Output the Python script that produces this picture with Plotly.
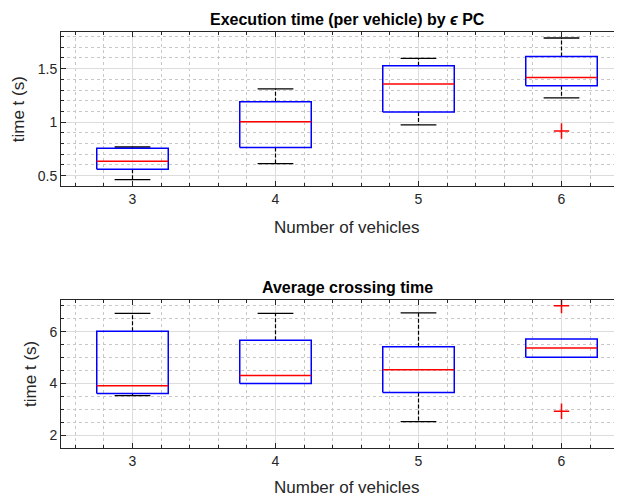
import plotly.graph_objects as go
from plotly.subplots import make_subplots

# ---------------- data ----------------
categories = [3, 4, 5, 6]

exec_lower = [0.462, 0.612, 0.975, 1.228]
exec_q1 = [0.560, 0.762, 1.094, 1.340]
exec_median = [0.634, 1.005, 1.356, 1.418]
exec_q3 = [0.756, 1.190, 1.527, 1.615]
exec_upper = [0.768, 1.312, 1.596, 1.787]
exec_out_x = [6]
exec_out_y = [0.918]

cross_lower = [3.53, 4.00, 2.53, 5.01]
cross_q1 = [3.615, 4.00, 3.65, 5.01]
cross_median = [3.91, 4.31, 4.53, 5.37]
cross_q3 = [6.01, 5.67, 5.42, 5.72]
cross_upper = [6.70, 6.70, 6.72, 5.72]
cross_out_x = [6, 6]
cross_out_y = [7.00, 2.93]

title_top = "Execution time (per vehicle) by <i>ϵ</i> PC"
title_bottom = "Average crossing time"
xlabel = "Number of vehicles"
ylabel = "time t (s)"

# ---------------- style ----------------
FONT = "Liberation Sans, Arial, sans-serif"
TXT = "#262626"
BOX_HALF = 0.25
CAP_HALF = 0.125

fig = make_subplots(rows=2, cols=1, vertical_spacing=0.0)


def add_boxes(row, lower, q1, med, q3, upper, ox, oy):
    wx, wy, cx, cy, bx, by, mx, my = [], [], [], [], [], [], [], []
    for c, lo, a, m, b, hi in zip(categories, lower, q1, med, q3, upper):
        if hi > b:
            wx += [c, c, None]
            wy += [b, hi, None]
            cx += [c - CAP_HALF, c + CAP_HALF, None]
            cy += [hi, hi, None]
        if lo < a:
            wx += [c, c, None]
            wy += [a, lo, None]
            cx += [c - CAP_HALF, c + CAP_HALF, None]
            cy += [lo, lo, None]
        bx += [c - BOX_HALF, c + BOX_HALF, c + BOX_HALF, c - BOX_HALF, c - BOX_HALF, None]
        by += [a, a, b, b, a, None]
        mx += [c - BOX_HALF, c + BOX_HALF, None]
        my += [m, m, None]
    fig.add_trace(go.Scatter(x=wx, y=wy, mode="lines", line=dict(color="black", width=1.2, dash="4px,2px"),
                             hoverinfo="skip", showlegend=False), row=row, col=1)
    fig.add_trace(go.Scatter(x=cx, y=cy, mode="lines", line=dict(color="black", width=1.3),
                             hoverinfo="skip", showlegend=False), row=row, col=1)
    fig.add_trace(go.Scatter(x=bx, y=by, mode="lines", line=dict(color="#0000ff", width=1.5),
                             hoverinfo="skip", showlegend=False), row=row, col=1)
    fig.add_trace(go.Scatter(x=mx, y=my, mode="lines", line=dict(color="#ff0000", width=1.5),
                             hoverinfo="skip", showlegend=False), row=row, col=1)
    fig.add_trace(go.Scatter(x=ox, y=oy, mode="markers",
                             marker=dict(symbol="cross-thin", size=11, line=dict(color="#ff0000", width=1.5)),
                             hoverinfo="skip", showlegend=False), row=row, col=1)


add_boxes(1, exec_lower, exec_q1, exec_median, exec_q3, exec_upper, exec_out_x, exec_out_y)
add_boxes(2, cross_lower, cross_q1, cross_median, cross_q3, cross_upper, cross_out_x, cross_out_y)

axis_common = dict(
    showline=True, linecolor=TXT, linewidth=1,
    ticks="inside", ticklen=5, tickcolor=TXT, tickwidth=1,
    showgrid=True, gridcolor="#dcdcdc", gridwidth=1,
    zeroline=False, automargin=False,
    tickfont=dict(family=FONT, size=14, color=TXT),
)

xr = [2.5, 6.423]
fig.update_xaxes(range=xr, tickvals=categories, ticktext=[str(c) for c in categories],
                 mirror="ticks",
                 minor=dict(dtick=0.2, tick0=0, showgrid=True, griddash="dot", gridcolor="#c8c8c8",
                            ticks="inside", ticklen=3, tickcolor=TXT),
                 **axis_common)
fig.update_yaxes(mirror=False,
                 title=dict(text=ylabel, font=dict(family=FONT, size=17, color=TXT), standoff=8),
                 **axis_common)

fig.update_yaxes(range=[0.40, 1.843], tickvals=[0.5, 1, 1.5], ticktext=["0.5", "1", "1.5"],
                 minor=dict(dtick=0.1, tick0=0, showgrid=True, griddash="dot", gridcolor="#c8c8c8",
                            ticks="inside", ticklen=3, tickcolor=TXT),
                 row=1, col=1)
fig.update_yaxes(range=[1.515, 7.23], tickvals=[2, 4, 6], ticktext=["2", "4", "6"],
                 minor=dict(dtick=0.5, tick0=0, showgrid=True, griddash="dot", gridcolor="#c8c8c8",
                            ticks="inside", ticklen=3, tickcolor=TXT),
                 row=2, col=1)

# the page body has an 8px margin, so the figure is sized/offset to compensate
fig.update_layout(
    width=614, height=489,
    margin=dict(l=53, r=0, t=24, b=49, autoexpand=False),
    paper_bgcolor="white", plot_bgcolor="white",
    font=dict(family=FONT, color=TXT),
    xaxis=dict(domain=[0, 1]), xaxis2=dict(domain=[0, 1]),
    yaxis=dict(domain=[0.629, 1.0]),
    yaxis2=dict(domain=[0.0, 0.3565]),
)

annots = [
    dict(text="<b>" + title_top + "</b>", x=4.5, xref="x", y=1.031, yref="paper",
         font=dict(family=FONT, size=16, color="black")),
    dict(text="<b>" + title_bottom + "</b>", x=4.5, xref="x", y=0.387, yref="paper",
         font=dict(family=FONT, size=16, color="black")),
    dict(text=xlabel, x=4.5, xref="x", y=0.529, yref="paper",
         font=dict(family=FONT, size=17, color=TXT)),
    dict(text=xlabel, x=4.5, xref="x", y=-0.094, yref="paper",
         font=dict(family=FONT, size=17, color=TXT)),
]
for a in annots:
    fig.add_annotation(showarrow=False, xanchor="center", yanchor="middle", **a)

fig.write_html("out.html")
